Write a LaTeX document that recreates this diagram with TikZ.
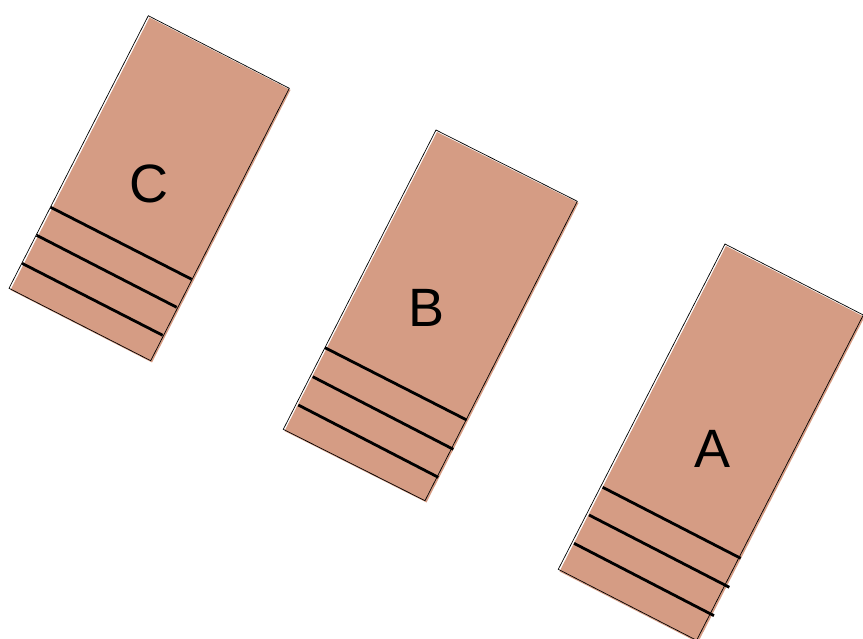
\documentclass[tikz,border=0pt]{standalone}
\usepackage{fontspec}
\setmainfont{Liberation Sans}
\definecolor{cardtan}{RGB}{213,156,132}
\begin{document}
\begin{tikzpicture}[x=1pt,y=-1pt,
  cardfill/.style={fill=cardtan},
  cardedge/.style={draw=black,line width=0.7pt,line join=miter},
  stripe/.style={draw=black,line width=2.8pt},
  lbl/.style={font=\fontsize{54}{60}\selectfont,inner sep=0pt,text=black}]
\useasboundingbox (0,0) rectangle (863,639);
\clip (0,0) rectangle (863,639);
% ---- C ----
\fill[cardfill] (149.5,17.5) -- (290.5,90) -- (152,362.5) -- (10.5,290) -- cycle;
\draw[cardedge] (148.3,15.7) -- (289.3,88.3) -- (150.7,360.7) -- (9,288.3) -- cycle;
\draw[stripe] (50.7,207.3) -- (191.7,279.3);
\draw[stripe] (36.7,235.3) -- (176.7,307.3);
\draw[stripe] (22,263.3) -- (162.7,335.3);
\node[lbl] (labC) at (149,184) {C};
% ---- B ----
\fill[cardfill] (437,132) -- (578.5,203) -- (426.5,502.5) -- (284.5,431) -- cycle;
\draw[cardedge] (436,130) -- (577.3,201.3) -- (425,500.7) -- (283.3,429.3) -- cycle;
\draw[stripe] (325,347.7) -- (466.7,420);
\draw[stripe] (312.7,376.7) -- (453.3,449.3);
\draw[stripe] (298.3,405) -- (438.3,477.3);
\node[lbl] (labB) at (426.5,307.5) {B};
% ---- A ----
\fill[cardfill] (726,246) -- (864.5,317) -- (698,642.5) -- (559.5,571.5) -- cycle;
\draw[cardedge] (725,244) -- (863.3,315) -- (696.6,640.3) -- (558.3,569.3) -- cycle;
\draw[stripe] (602.7,487.3) -- (740.7,558.3);
\draw[stripe] (589,515) -- (729.3,587.3);
\draw[stripe] (574,543.3) -- (714,615.7);
\node[lbl] (labA) at (713,449.3) {A};
\end{tikzpicture}
\end{document}
